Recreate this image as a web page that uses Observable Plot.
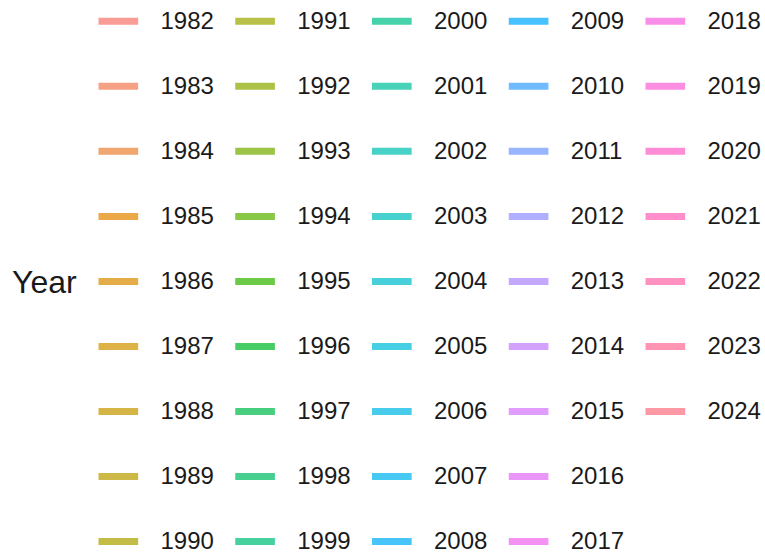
<!DOCTYPE html>
<html>
<head>
<meta charset="utf-8">
<script src="https://cdn.jsdelivr.net/npm/d3@7"></script>
<script src="https://cdn.jsdelivr.net/npm/@observablehq/plot@0.6"></script>
<style>
  html, body { margin: 0; padding: 0; background: #fff; }
  svg { display: block; }
</style>
</head>
<body>
<div id="chart"></div>
<script>
// Legend entries (years), filled column by column, 9 rows per column
const years = d3.range(1982, 2025);
const legendTitle = "Year";
const rowsPerColumn = 9;

// ggplot2 default hue palette (polar LUV, l = 65, c = 100)
function hclLuv(h, c, l) {
  const Xn = 95.047, Yn = 100.0, Zn = 108.883;
  const hr = h * Math.PI / 180;
  const u = c * Math.cos(hr), v = c * Math.sin(hr);
  const Y = l > 8 ? Yn * Math.pow((l + 16) / 116, 3) : Yn * l / 903.3;
  const den = Xn + 15 * Yn + 3 * Zn;
  const un = 4 * Xn / den, vn = 9 * Yn / den;
  const up = u / (13 * l) + un, vp = v / (13 * l) + vn;
  const X = Y * 9 * up / (4 * vp);
  const Z = Y * (12 - 3 * up - 20 * vp) / (4 * vp);
  const x = X / 100, y = Y / 100, z = Z / 100;
  let r = 3.240479 * x - 1.537150 * y - 0.498535 * z;
  let g = -0.969256 * x + 1.875992 * y + 0.041556 * z;
  let b = 0.055648 * x - 0.204043 * y + 1.057311 * z;
  const gam = t => t <= 0.0031308 ? 12.92 * t : 1.055 * Math.pow(t, 1 / 2.4) - 0.055;
  const cl = t => Math.max(0, Math.min(1, t));
  r = cl(gam(r)); g = cl(gam(g)); b = cl(gam(b));
  return d3.rgb(r * 255, g * 255, b * 255).formatHex();
}
const n = years.length;
const palette = years.map((_, i) => hclLuv(15 + 360 * i / n, 100, 65));

const entries = years.map((year, i) => ({
  year: String(year),
  col: Math.floor(i / rowsPerColumn),
  row: i % rowsPerColumn
}));

const chart = Plot.plot({
  width: 765,
  height: 557,
  margin: 0,
  x: { type: "linear", domain: [0, 4], range: [98.5, 645.5], axis: null },
  y: { type: "linear", domain: [0, 8], range: [20.8, 541], axis: null },
  color: { type: "ordinal", domain: years.map(String), range: palette },
  style: { fontFamily: "'Liberation Sans', Arial, Helvetica, sans-serif", background: "#fff" },
  marks: [
    Plot.ruleY(entries, {
      y: "row",
      x1: "col",
      x2: d => d.col + 0.29,
      stroke: "year",
      strokeWidth: 7,
      strokeOpacity: 0.72,
      strokeLinecap: "butt"
    }),
    Plot.text(entries, {
      x: "col",
      y: "row",
      text: "year",
      dx: 61.5,
      textAnchor: "start",
      fontSize: 24,
      fill: "#1a1a1a"
    }),
    Plot.text([legendTitle], {
      y: [4],
      frameAnchor: "left",
      dx: 11.5,
      dy: 1,
      textAnchor: "start",
      fontSize: 32,
      fill: "#1a1a1a"
    })
  ]
});
document.getElementById("chart").appendChild(chart);
</script>
</body>
</html>
